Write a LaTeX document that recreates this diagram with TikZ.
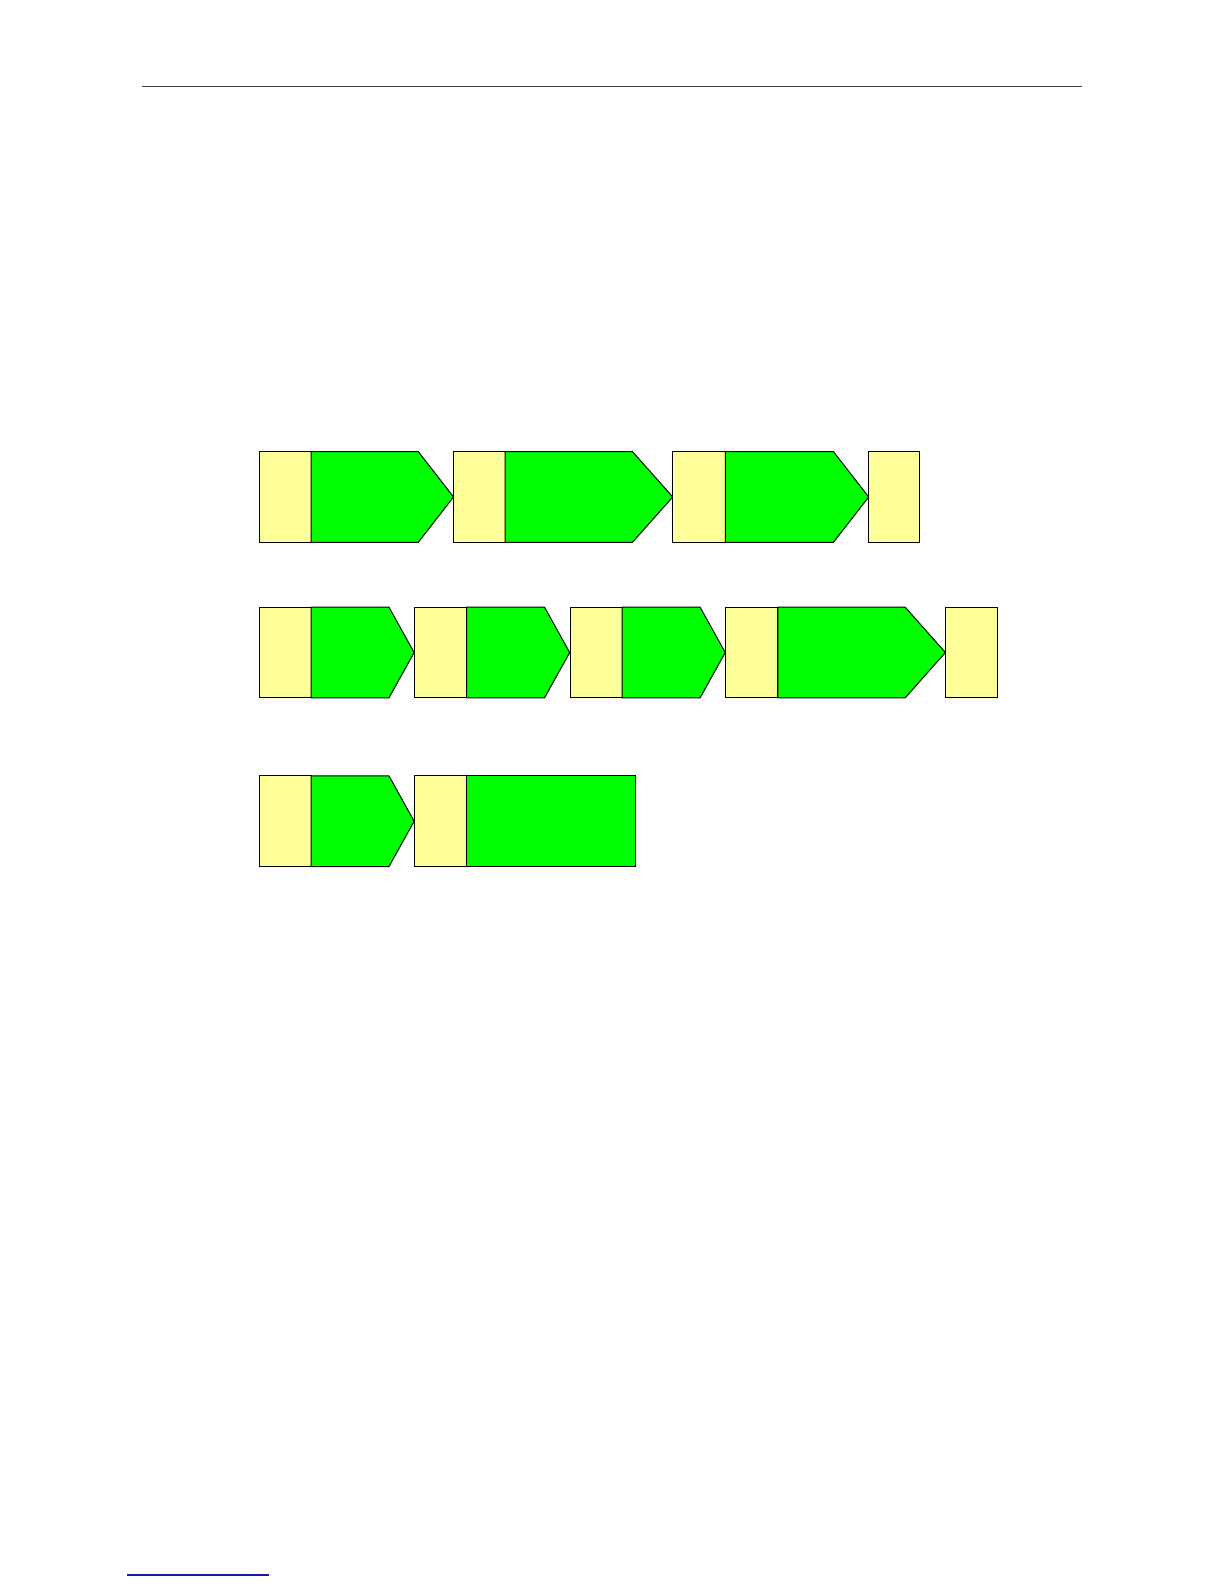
\documentclass[tikz,border=0pt]{standalone}
\definecolor{paleyellow}{HTML}{FFFF99}
\definecolor{brightgreen}{HTML}{00FF00}
\definecolor{linkblue}{HTML}{1A1A99}
\definecolor{rulegray}{HTML}{404040}
\tikzset{
  ybox/.style={fill=paleyellow, draw=black, line width=1pt},
  gbox/.style={fill=brightgreen, draw=black, line width=1pt, line join=miter},
}
\begin{document}
\begin{tikzpicture}[x=1pt,y=-1pt]
\useasboundingbox (0,0) rectangle (1224,1584);
% header rule
\draw[rulegray, line width=1pt] (142,87) -- (1082,87);
% footer link line
\draw[linkblue, line width=1.5pt] (127,1575) -- (269,1575);

\begin{scope}[scale=1.0101]
% Row 1
\def\ta{447}\def\ba{537}\def\ma{492}
\draw[ybox] (257,\ta) rectangle (308,\ba);
\draw[gbox] (308,\ta) -- (414,\ta) -- (449,\ma) -- (414,\ba) -- (308,\ba) -- cycle;
\draw[ybox] (449,\ta) rectangle (500,\ba);
\draw[gbox] (500,\ta) -- (626,\ta) -- (666,\ma) -- (626,\ba) -- (500,\ba) -- cycle;
\draw[ybox] (666,\ta) rectangle (718,\ba);
\draw[gbox] (718,\ta) -- (825,\ta) -- (860,\ma) -- (825,\ba) -- (718,\ba) -- cycle;
\draw[ybox] (860,\ta) rectangle (910,\ba);

% Row 2
\def\tb{601}\def\bb{691}\def\mb{646}
\draw[ybox] (257,\tb) rectangle (308,\bb);
\draw[gbox] (308,\tb) -- (385,\tb) -- (410,\mb) -- (385,\bb) -- (308,\bb) -- cycle;
\draw[ybox] (410,\tb) rectangle (462,\bb);
\draw[gbox] (462,\tb) -- (539,\tb) -- (564,\mb) -- (539,\bb) -- (462,\bb) -- cycle;
\draw[ybox] (565,\tb) rectangle (616,\bb);
\draw[gbox] (616,\tb) -- (693,\tb) -- (718,\mb) -- (693,\bb) -- (616,\bb) -- cycle;
\draw[ybox] (718,\tb) rectangle (770,\bb);
\draw[gbox] (770,\tb) -- (896,\tb) -- (936,\mb) -- (896,\bb) -- (770,\bb) -- cycle;
\draw[ybox] (936,\tb) rectangle (988,\bb);

% Row 3
\def\tc{768}\def\bc{858}\def\mc{813}
\draw[ybox] (257,\tc) rectangle (308,\bc);
\draw[gbox] (308,\tc) -- (385,\tc) -- (410,\mc) -- (385,\bc) -- (308,\bc) -- cycle;
\draw[ybox] (410,\tc) rectangle (462,\bc);
\draw[gbox] (462,\tc) rectangle (629,\bc);
\end{scope}
\end{tikzpicture}
\end{document}
